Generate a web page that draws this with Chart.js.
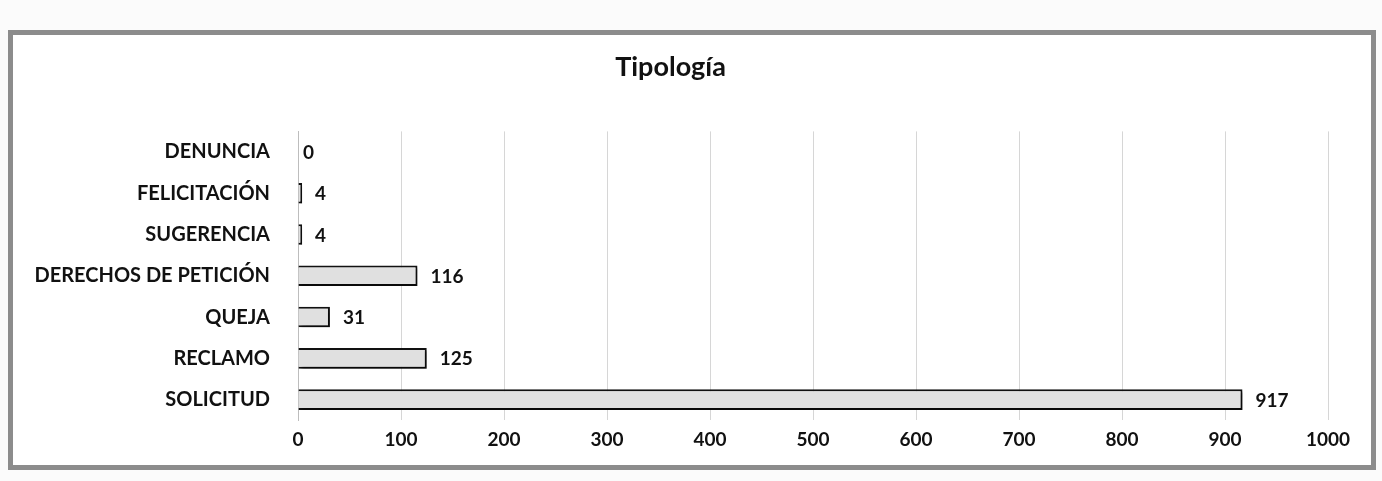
<!DOCTYPE html>
<html>
<head>
<meta charset="utf-8">
<script src="https://cdn.jsdelivr.net/npm/chart.js@4.4.1/dist/chart.umd.min.js"></script>
<style>
  body { margin: 0; background: #fbfbfb; width: 1382px; height: 481px; overflow: hidden; }
  #frame {
    position: absolute; left: 8px; top: 30px; width: 1358px; height: 430px;
    border: 5px solid #8c8c8c; background: #fff;
  }
  canvas { display: block; }
</style>
</head>
<body>
<div id="frame"><canvas id="chart" width="1358" height="430"></canvas></div>
<script>
// DATA
const categories = ['DENUNCIA', 'FELICITACIÓN', 'SUGERENCIA', 'DERECHOS DE PETICIÓN', 'QUEJA', 'RECLAMO', 'SOLICITUD'];
const counts = [0, 4, 4, 116, 31, 125, 917];
const chartTitle = 'Tipología';

const font = "Lato, 'Liberation Sans', sans-serif";

// value labels right of each bar
const valueLabels = {
    id: 'valueLabels',
    afterDatasetsDraw(chart) {
        const ctx = chart.ctx;
        const meta = chart.getDatasetMeta(0);
        ctx.save();
        ctx.font = 'bold 19px ' + font;
        ctx.fillStyle = '#111';
        ctx.textAlign = 'left';
        ctx.textBaseline = 'middle';
        meta.data.forEach((bar, i) => {
            ctx.fillText(counts[i], bar.x + (counts[i] > 0 ? 13 : 5), bar.y + 1);
        });
        ctx.restore();
    }
};

// soft shadow under bars
const barShadow = {
    id: 'barShadow',
    beforeDatasetsDraw(chart) {
        const ctx = chart.ctx;
        ctx.save();
        ctx.shadowColor = 'rgba(0,0,0,0.45)';
        ctx.shadowBlur = 3;
        ctx.shadowOffsetX = 2;
        ctx.shadowOffsetY = 3;
    },
    afterDatasetsDraw(chart) {
        chart.ctx.restore();
    }
};

new Chart(document.getElementById('chart'), {
    type: 'bar',
    data: {
        labels: categories,
        datasets: [{
            data: counts,
            backgroundColor: '#e0e0e0',
            borderColor: '#111',
            borderWidth: 2,
            borderSkipped: 'left',
            categoryPercentage: 1,
            barPercentage: 0.5
        }]
    },
    options: {
        indexAxis: 'y',
        responsive: false,
        animation: false,
        layout: { padding: { right: 43, bottom: 6 } },
        plugins: {
            legend: { display: false },
            tooltip: { enabled: false },
            title: {
                display: true,
                text: chartTitle,
                color: '#111',
                font: { family: font, size: 27, weight: 'bold' },
                padding: { top: 16, bottom: 48 }
            }
        },
        scales: {
            x: {
                min: 0, max: 1000,
                ticks: {
                    stepSize: 100, color: '#111', padding: 8,
                    font: { family: font, size: 19, weight: 'bold' },
                    callback: v => String(v)
                },
                grid: { color: '#d6d6d6', drawTicks: false },
                border: { display: false }
            },
            y: {
                ticks: { color: '#111', padding: 28, font: { family: font, size: 20, weight: 'bold' } },
                grid: { display: false, drawTicks: false },
                border: { display: true, color: '#bdbdbd' },
                afterFit(scale) { scale.width = 285; }
            }
        }
    },
    plugins: [barShadow, valueLabels]
});
</script>
</body>
</html>
